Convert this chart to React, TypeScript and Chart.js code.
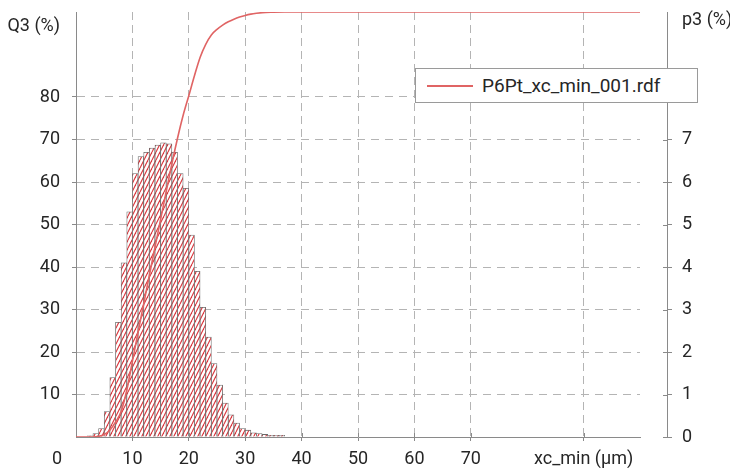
import React, { useEffect, useRef } from "react";
import { Chart, registerables } from "chart.js";

Chart.register(...registerables);

// ---- data ----
const seriesName = "P6Pt_xc_min_001.rdf";
const leftTitle = "Q3 (%)";
const rightTitle = "p3 (%)";
const originLabel = "0";

// histogram bins (µm, bin centres) and density p3 (%)
const binCenters = [
  2.5, 3.5, 4.5, 5.5, 6.5, 7.5, 8.5, 9.5, 10.5, 11.5, 12.5, 13.5, 14.5, 15.5,
  16.5, 17.5, 18.5, 19.5, 20.5, 21.5, 22.5, 23.5, 24.5, 25.5, 26.5, 27.5, 28.5,
  29.5, 30.5, 31.5, 32.5, 33.5, 34.5, 35.5, 36.5,
];
const p3Values = [
  0.03, 0.08, 0.2, 0.6, 1.4, 2.7, 4.1, 5.3, 6.2, 6.6, 6.7, 6.8, 6.87, 6.92,
  6.9, 6.7, 6.2, 5.85, 4.75, 3.9, 3.05, 2.35, 1.73, 1.22, 0.8, 0.52, 0.33, 0.2,
  0.16, 0.1, 0.08, 0.06, 0.04, 0.04, 0.04,
];

// cumulative curve Q3 (%)
const q3X = [
  0, 3, 4, 5, 6, 7, 8, 9, 10, 11, 12, 13, 14, 15, 16, 17, 18, 19, 20, 21, 22,
  23, 24, 25, 26, 27, 28, 29, 30, 31, 32, 33, 35, 37, 100,
];
const q3Values = [
  0, 0, 0.15, 0.6, 1.6, 3.5, 6.0, 11, 17.8, 24.6, 31.3, 38, 44.6, 51.2, 57.8,
  64.3, 70.3, 75.7, 80.3, 85, 89.3, 92.4, 94.6, 95.9, 96.9, 97.7, 98.3, 98.8,
  99.2, 99.5, 99.7, 99.85, 99.95, 100, 100,
];

// tick labels
const xLabelValues = [10, 20, 30, 40, 50, 60, 70, 90];
const xLabelTexts = ["10", "20", "30", "40", "50", "60", "70", "xc_min (µm)"];
const leftLabelValues = [10, 20, 30, 40, 50, 60, 70, 80];
const rightLabelValues = [0, 1, 2, 3, 4, 5, 6, 7, 8];

// ---- style ----
const FONT = "Roboto";
const textColor = "#262626";
const axisColor = "#8a8a8a";
const gridColor = "#b4b4b4";
const lineColor = "#e06464";
const hatchColor = "#d8343a";

function makeHatch(): CanvasPattern | string {
  const c = document.createElement("canvas");
  c.width = 4;
  c.height = 8;
  const g = c.getContext("2d");
  if (!g) return "#f4c0c0";
  g.fillStyle = "#ffffff";
  g.fillRect(0, 0, 4, 8);
  g.strokeStyle = hatchColor;
  g.lineWidth = 1.1;
  for (const k of [-1, 0, 1]) {
    g.beginPath();
    g.moveTo(k * 4, 8);
    g.lineTo(k * 4 + 4, 0);
    g.stroke();
  }
  return g.createPattern(c, "repeat") || "#f4c0c0";
}

const noPad = (s: any) => {
  s.paddingTop = 0;
  s.paddingBottom = 0;
  s.paddingLeft = 0;
  s.paddingRight = 0;
};

const decorPlugin = {
  id: "decor",
  afterDraw(chart: any) {
    const { ctx, chartArea, scales } = chart;
    const x = scales.x;
    const yl = scales.y;
    const yr = scales.p3;
    ctx.save();
    ctx.strokeStyle = axisColor;
    ctx.lineWidth = 1;
    ctx.setLineDash([]);
    ctx.beginPath();
    x.ticks.forEach((t: any) => {
      const px = Math.round(x.getPixelForValue(t.value)) + 0.5;
      ctx.moveTo(px, chartArea.bottom);
      ctx.lineTo(px, chartArea.bottom - 4);
    });
    yr.ticks.forEach((t: any) => {
      const py = Math.round(yr.getPixelForValue(t.value)) + 0.5;
      ctx.moveTo(yr.left, py);
      ctx.lineTo(yr.left - 4, py);
    });
    ctx.stroke();

    ctx.fillStyle = textColor;
    ctx.font = `18px ${FONT}`;
    ctx.textBaseline = "middle";
    ctx.textAlign = "right";
    ctx.fillText(leftTitle, yl.right - 16, yl.getPixelForValue(96.6));
    ctx.fillText(originLabel, yl.right - 14, chartArea.bottom + 22);
    ctx.textAlign = "left";
    ctx.fillText(rightTitle, yr.left + 15, yr.getPixelForValue(9.8));
    ctx.restore();
  },
};

export default function App() {
  const canvasRef = useRef<HTMLCanvasElement | null>(null);

  useEffect(() => {
    const canvas = canvasRef.current;
    if (!canvas) return;
    const hatch = makeHatch();
    const tickFont = { family: FONT, size: 18 };

    const chart = new Chart(canvas, {
      type: "bar",
      data: {
        datasets: [
          {
            type: "line",
            label: seriesName,
            data: q3X.map((x, i) => ({ x, y: q3Values[i] })),
            xAxisID: "x",
            yAxisID: "y",
            borderColor: lineColor,
            borderWidth: 1.6,
            pointRadius: 0,
            cubicInterpolationMode: "monotone",
            fill: false,
            order: 0,
          } as any,
          {
            type: "bar",
            label: "p3",
            data: binCenters.map((x, i) => ({ x, y: p3Values[i] })),
            xAxisID: "x",
            yAxisID: "p3",
            backgroundColor: hatch as any,
            borderColor: "#6a6a6a",
            borderWidth: 0.8,
            barPercentage: 1,
            categoryPercentage: 1,
            order: 1,
          } as any,
        ],
      },
      options: {
        responsive: false,
        animation: false,
        devicePixelRatio: 1,
        layout: { padding: { top: 12, left: 0, right: 0, bottom: 0 } },
        plugins: {
          legend: { display: false },
          tooltip: { enabled: false },
          title: { display: false },
        },
        scales: {
          x: {
            type: "linear",
            position: "bottom",
            min: 0,
            max: 100,
            offset: false,
            grid: {
              offset: false,
              color: gridColor,
              lineWidth: 1,
              tickLength: 4,
              tickColor: axisColor,
            },
            border: { color: axisColor, dash: [8, 5] },
            ticks: {
              stepSize: 5,
              autoSkip: false,
              maxRotation: 0,
              minRotation: 0,
              padding: 8,
              color: textColor,
              font: tickFont,
              callback: (v: any) => {
                const i = xLabelValues.indexOf(Number(v));
                return i >= 0 ? xLabelTexts[i] : null;
              },
            },
            afterFit: (s: any) => {
              s.height = 31;
              noPad(s);
            },
          },
          y: {
            type: "linear",
            position: "left",
            min: 0,
            max: 100,
            grid: {
              color: gridColor,
              lineWidth: 1,
              tickLength: 4,
              tickColor: axisColor,
            },
            border: { color: axisColor, dash: [8, 6] },
            ticks: {
              stepSize: 10,
              padding: 12,
              color: textColor,
              font: tickFont,
              callback: (v: any) =>
                leftLabelValues.includes(Number(v)) ? String(v) : null,
            },
            afterFit: (s: any) => {
              s.width = 76;
              noPad(s);
            },
          },
          spacer: {
            type: "linear",
            axis: "y",
            position: "right",
            weight: 0,
            grid: { display: false },
            border: { display: false },
            ticks: { display: false },
            afterFit: (s: any) => {
              s.width = 27;
              noPad(s);
            },
          },
          p3: {
            type: "linear",
            axis: "y",
            position: "right",
            weight: 1,
            min: 0,
            max: 10,
            grid: {
              drawOnChartArea: false,
              color: axisColor,
              tickLength: 5,
            },
            border: { color: axisColor },
            ticks: {
              stepSize: 1,
              padding: 10,
              color: textColor,
              font: tickFont,
              callback: (v: any) =>
                rightLabelValues.includes(Number(v)) ? String(v) : null,
            },
            afterFit: (s: any) => {
              s.width = 63;
              noPad(s);
            },
          },
        } as any,
      },
      plugins: [decorPlugin],
    });

    return () => {
      chart.destroy();
    };
  }, []);

  return (
    <div
      style={{
        position: "absolute",
        left: 0,
        top: 0,
        width: 730,
        height: 468,
        background: "#ffffff",
      }}
    >
      <canvas ref={canvasRef} width={730} height={468} />
      <div
        style={{
          position: "absolute",
          left: 415,
          top: 68,
          width: 283,
          height: 35,
          boxSizing: "border-box",
          border: "1px solid #9a9a9a",
          background: "#ffffff",
          display: "flex",
          alignItems: "center",
        }}
      >
        <span
          style={{
            display: "inline-block",
            width: 46,
            height: 2,
            background: lineColor,
            marginLeft: 11,
            marginRight: 9,
          }}
        />
        <span
          style={{
            fontFamily: FONT,
            fontSize: 19,
            color: textColor,
            whiteSpace: "nowrap",
          }}
        >
          {seriesName}
        </span>
      </div>
    </div>
  );
}
